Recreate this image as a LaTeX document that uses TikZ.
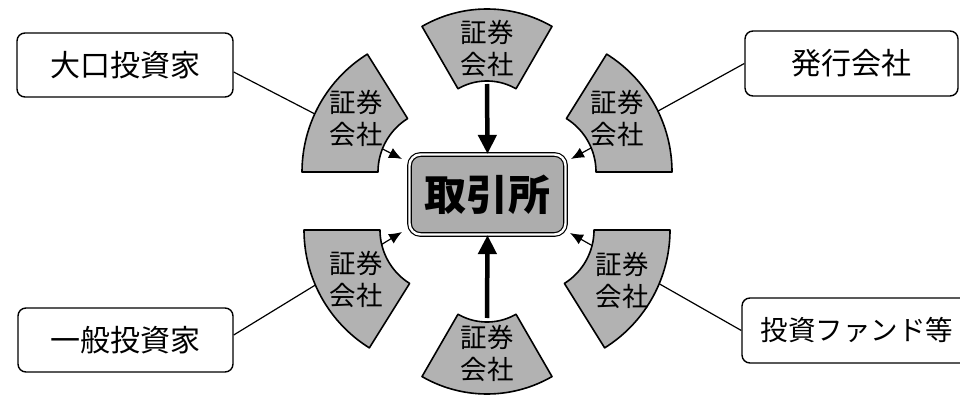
\documentclass[tikz,border=0pt]{standalone}
\usepackage{fontspec}
\setmainfont{Noto Sans CJK JP}
\usetikzlibrary{arrows.meta,calc}
\definecolor{secfill}{gray}{0.70}
\definecolor{exfill}{gray}{0.68}
\newcommand\mysector[6]{%
  \filldraw[sec] plot[domain=#3:#4,samples=40] ({#1+#5*cos(\x)},{#2+#5*sin(\x)})
    -- plot[domain=#4:#3,samples=40] ({#1+#6*cos(\x)},{#2+#6*sin(\x)}) -- cycle;}
\begin{document}
\begin{tikzpicture}[x=1pt,y=-1pt,
  sec/.style={fill=secfill,draw=black,line width=1.6pt,line join=round},
  party/.style={draw=black,line width=1.4pt,rounded corners=8pt,fill=white,
    minimum height=64pt,inner sep=0pt,font=\fontsize{30pt}{32pt}\selectfont},
  sectext/.style={align=center,inner sep=0pt,font=\fontsize{26.5pt}{32pt}\selectfont},
  thin/.style={line width=1.2pt,-{Latex[length=13pt,width=11pt]}},
  thick/.style={line width=4.5pt,-{Triangle[length=19pt,width=18pt]}}]
\useasboundingbox (0,0) rectangle (960,395);
% parties
\node[party,minimum width=216pt] (big) at (125,65) {大口投資家};
\node[party,minimum width=213pt,minimum height=65pt] (issuer) at (851.5,63.5) {発行会社};
\node[party,minimum width=215pt] (gen) at (125.5,340) {一般投資家};
\node[party,minimum width=230pt,minimum height=65pt,font=\fontsize{27.5pt}{30pt}\selectfont] (fund) at (857,330.5) {投資ファンド等};
% connector end points at the exchange
\coordinate (tul) at (402,159);
\coordinate (tur) at (571,159);
\coordinate (tll) at (402,232);
\coordinate (tlr) at (570,233);
\coordinate (topin) at (487,84);
\coordinate (botin) at (487,318);
% thin connectors (behind the sectors)
\draw[thin] ($(big.east)+(0,7)$) -- (tul);
\draw[thin] (issuer.west) -- (tur);
\draw[thin] ($(gen.east)+(0,-5)$) -- (tll);
\draw[thin] (fund.west) -- (tlr);
% sectors
\mysector{487}{139}{-120}{-60}{130}{58}
\mysector{487}{264}{60}{120}{130}{58}
\mysector{441}{172}{-180}{-122}{139}{63}
\mysector{533}{172}{-58}{0}{139}{63}
\mysector{443}{230}{122}{180}{139}{63}
\mysector{531}{230}{0}{58}{139}{63}
\node[sectext] (s1) at (487,48) {証券\\会社};
\node[sectext] (s2) at (356,118) {証券\\会社};
\node[sectext] (s3) at (617,118) {証券\\会社};
\node[sectext] (s4) at (356,279) {証券\\会社};
\node[sectext] (s5) at (622,280) {証券\\会社};
\node[sectext] (s6) at (487,353) {証券\\会社};
% exchange
\node[draw=black,line width=1.2pt,double=white,double distance=2.4pt,fill=exfill,
  rounded corners=11pt,minimum width=156pt,minimum height=80pt,inner sep=0pt,
  font=\bfseries\fontsize{42pt}{44pt}\selectfont] (ex) at (487.5,194.5) {取引所};
% thick arrows
\draw[thick] (topin) -- (ex.north);
\draw[thick] (botin) -- (ex.south);
\end{tikzpicture}
\end{document}
